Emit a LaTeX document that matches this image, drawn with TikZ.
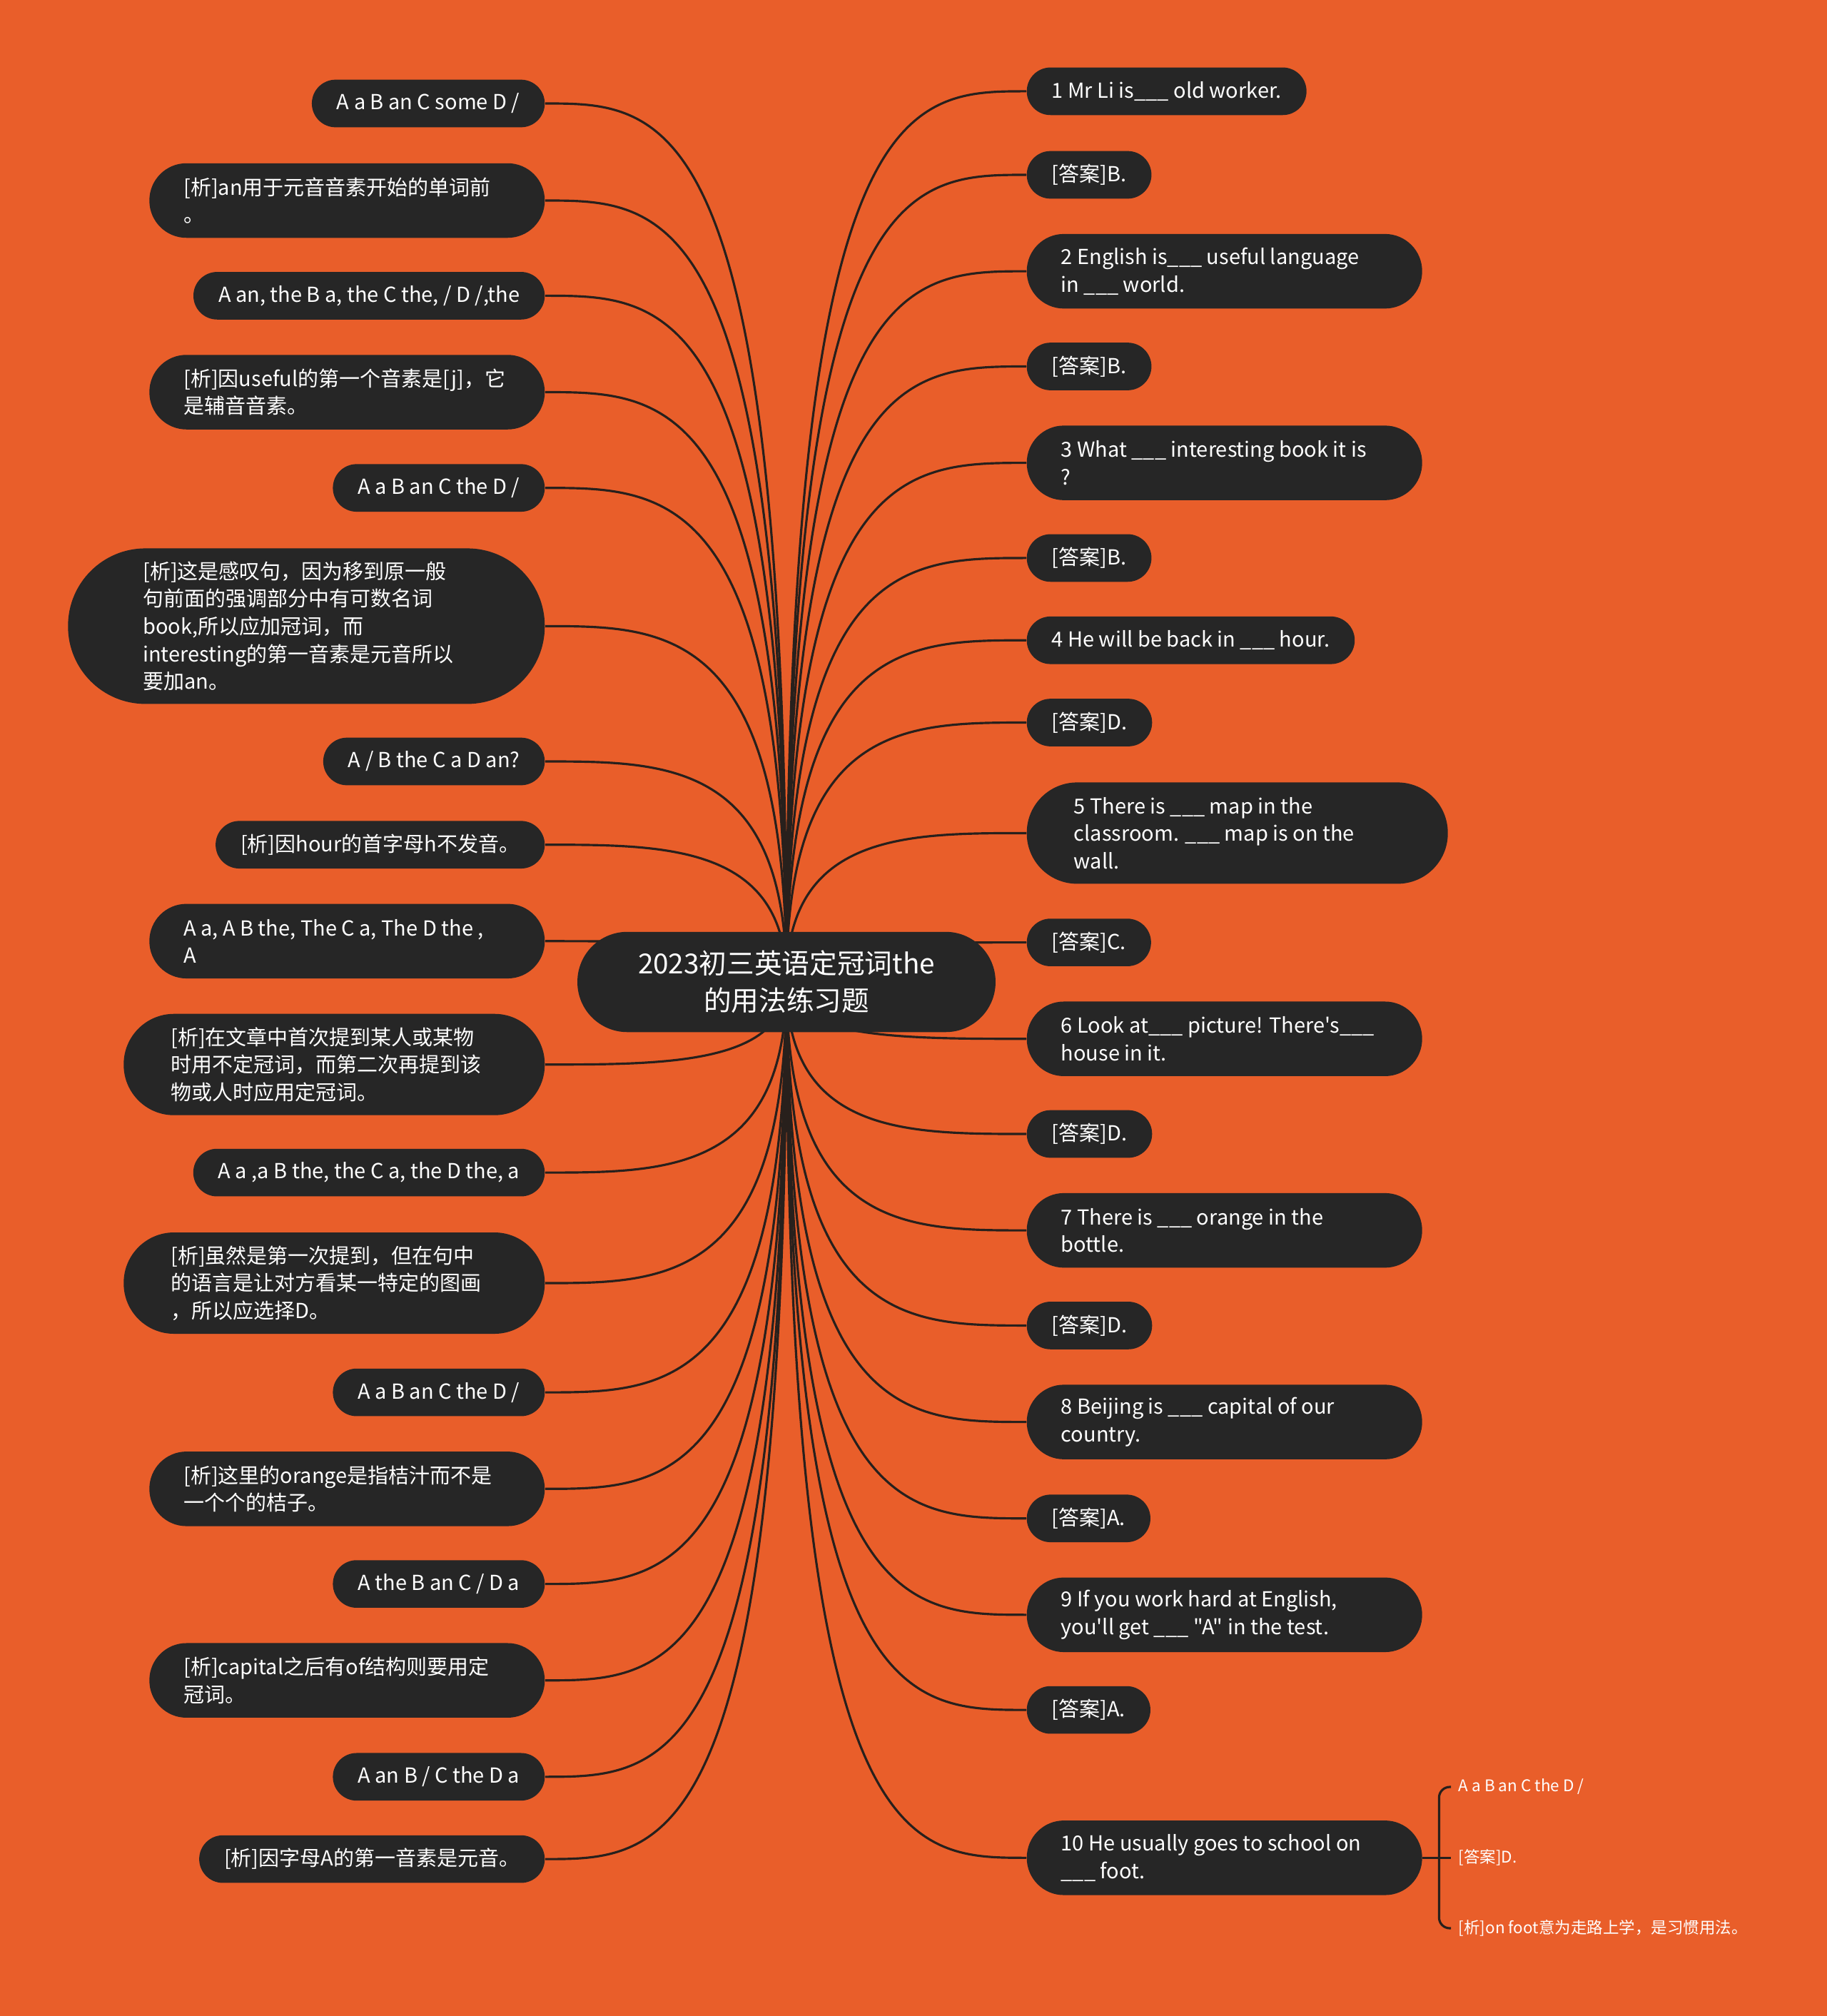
\documentclass[tikz,border=0pt]{standalone}
\usepackage{fontspec}
\setmainfont{Noto Sans CJK SC}[Ligatures=TeXOff]
\usepackage{tikz}
\usetikzlibrary{calc}
\definecolor{mapbg}{RGB}{233, 94, 42}
\definecolor{boxdark}{RGB}{38, 38, 38}
\definecolor{linkdark}{RGB}{40, 32, 28}
\pgfdeclarelayer{paper}
\pgfdeclarelayer{links}
\pgfsetlayers{paper,links,main}

\begin{document}
\begin{tikzpicture}[
    leaf/.style={rectangle, rounded corners=0.333cm, fill=boxdark, text=white, align=flush left,
        font=\fontsize{8.25pt}{11pt}\selectfont, inner xsep=0.35cm, inner ysep=0pt,
        minimum height=0.667cm},
    tworow/.style={minimum height=1.045cm, rounded corners=0.52cm, inner xsep=0.48cm, text width=4.58cm},
    threerow/.style={minimum height=1.42cm, rounded corners=0.705cm, inner xsep=0.66cm, text width=4.58cm},
    fiverow/.style={minimum height=2.18cm, rounded corners=1.085cm, inner xsep=1.05cm, text width=4.58cm},
    small/.style={text=white, font=\fontsize{6.4pt}{8pt}\selectfont, inner sep=0.1cm, anchor=west},
    branch/.style={linkdark, line width=0.9pt,
        to path={.. controls (\tikztostart |- \tikztotarget) and ($(\tikztostart |- \tikztotarget)!0.5!(\tikztotarget)$) .. (\tikztotarget)}}
]
\useasboundingbox (0,0) rectangle (25.6,-28.25);
\begin{pgfonlayer}{paper}
\fill[mapbg] (0,0) rectangle (25.6,-28.25);
\end{pgfonlayer}

\node[rectangle, rounded corners=0.70cm, fill=boxdark, text=white, align=center, font=\fontsize{11pt}{14.8pt}\selectfont,
    inner xsep=0.85cm, inner ysep=0pt, minimum height=1.405cm] (root) at (11.02,-13.76) {2023初三英语定冠词the\\的用法练习题};

\node[leaf, anchor=east] (opt1) at (7.64,-1.450) {A a B an C some D /};
\node[leaf, tworow, anchor=east] (note1) at (7.64,-2.810) {[析]an用于元音音素开始的单词前\\。};
\node[leaf, anchor=east] (opt2) at (7.64,-4.144) {A an, the B a, the C the, / D /,the};
\node[leaf, tworow, anchor=east] (note2) at (7.64,-5.495) {[析]因useful的第一个音素是[j]，它\\是辅音音素。};
\node[leaf, anchor=east] (opt3) at (7.64,-6.837) {A a B an C the D /};
\node[leaf, fiverow, anchor=east] (note3) at (7.64,-8.774) {[析]这是感叹句，因为移到原一般\\句前面的强调部分中有可数名词\\book,所以应加冠词，而\\interesting的第一音素是元音所以\\要加an。};
\node[leaf, anchor=east] (opt4) at (7.64,-10.67) {A / B the C a D an?};
\node[leaf, anchor=east] (note4) at (7.64,-11.837) {[析]因hour的首字母h不发音。};
\node[leaf, tworow, anchor=east] (opt5) at (7.64,-13.188) {A a, A B the, The C a, The D the ,\\A};
\node[leaf, threerow, anchor=east] (note5) at (7.64,-14.917) {[析]在文章中首次提到某人或某物\\时用不定冠词，而第二次再提到该\\物或人时应用定冠词。};
\node[leaf, anchor=east] (opt6) at (7.64,-16.431) {A a ,a B the, the C a, the D the, a};
\node[leaf, threerow, anchor=east] (note6) at (7.64,-17.980) {[析]虽然是第一次提到，但在句中\\的语言是让对方看某一特定的图画\\，所以应选择D。};
\node[leaf, anchor=east] (opt7) at (7.64,-19.511) {A a B an C the D /};
\node[leaf, tworow, anchor=east] (note7) at (7.64,-20.863) {[析]这里的orange是指桔汁而不是\\一个个的桔子。};
\node[leaf, anchor=east] (opt8) at (7.64,-22.196) {A the B an C / D a};
\node[leaf, tworow, anchor=east] (note8) at (7.64,-23.547) {[析]capital之后有of结构则要用定\\冠词。};
\node[leaf, anchor=east] (opt9) at (7.64,-24.898) {A an B / C the D a};
\node[leaf, anchor=east] (note9) at (7.64,-26.051) {[析]因字母A的第一音素是元音。};

\node[leaf, anchor=west] (q1) at (14.38,-1.279) {1 Mr Li is\_\_\_ old worker.};
\node[leaf, anchor=west] (ans1) at (14.38,-2.450) {[答案]B.};
\node[leaf, tworow, anchor=west] (q2) at (14.38,-3.801) {2 English is\_\_\_ useful language\\in \_\_\_ world.};
\node[leaf, anchor=west] (ans2) at (14.38,-5.135) {[答案]B.};
\node[leaf, tworow, anchor=west] (q3) at (14.38,-6.486) {3 What \_\_\_ interesting book it is\\?};
\node[leaf, anchor=west] (ans3) at (14.38,-7.819) {[答案]B.};
\node[leaf, anchor=west] (q4) at (14.38,-8.972) {4 He will be back in \_\_\_ hour.};
\node[leaf, anchor=west] (ans4) at (14.38,-10.125) {[答案]D.};
\node[leaf, threerow, anchor=west] (q5) at (14.38,-11.674) {5 There is \_\_\_ map in the\\classroom. \_\_\_ map is on the\\wall.};
\node[leaf, anchor=west] (ans5) at (14.38,-13.206) {[答案]C.};
\node[leaf, tworow, anchor=west] (q6) at (14.38,-14.557) {6 Look at\_\_\_ picture! There's\_\_\_\\house in it.};
\node[leaf, anchor=west] (ans6) at (14.38,-15.890) {[答案]D.};
\node[leaf, tworow, anchor=west] (q7) at (14.38,-17.241) {7 There is \_\_\_ orange in the\\bottle.};
\node[leaf, anchor=west] (ans7) at (14.38,-18.574) {[答案]D.};
\node[leaf, tworow, anchor=west] (q8) at (14.38,-19.926) {8 Beijing is \_\_\_ capital of our\\country.};
\node[leaf, anchor=west] (ans8) at (14.38,-21.277) {[答案]A.};
\node[leaf, tworow, anchor=west] (q9) at (14.38,-22.628) {9 If you work hard at English,\\you'll get \_\_\_ "A" in the test.};
\node[leaf, anchor=west] (ans9) at (14.38,-23.961) {[答案]A.};
\node[leaf, tworow, anchor=west] (q10) at (14.38,-26.033) {10 He usually goes to school on\\\_\_\_ foot.};

\coordinate (fork) at ([xshift=0.23cm]q10.east);
\node[small] (opt10) at (20.33,-25.04) {A a B an C the D /};
\node[small] (ans10) at (20.33,-26.033) {[答案]D.};
\node[small] (note10) at (20.33,-27.02) {[析]on foot意为走路上学，是习惯用法。};

\begin{pgfonlayer}{links}
\draw[branch] (root.center) to (opt1.east);
\draw[branch] (root.center) to (note1.east);
\draw[branch] (root.center) to (opt2.east);
\draw[branch] (root.center) to (note2.east);
\draw[branch] (root.center) to (opt3.east);
\draw[branch] (root.center) to (note3.east);
\draw[branch] (root.center) to (opt4.east);
\draw[branch] (root.center) to (note4.east);
\draw[branch] (root.center) to (opt5.east);
\draw[branch] (root.center) to (note5.east);
\draw[branch] (root.center) to (opt6.east);
\draw[branch] (root.center) to (note6.east);
\draw[branch] (root.center) to (opt7.east);
\draw[branch] (root.center) to (note7.east);
\draw[branch] (root.center) to (opt8.east);
\draw[branch] (root.center) to (note8.east);
\draw[branch] (root.center) to (opt9.east);
\draw[branch] (root.center) to (note9.east);
\draw[branch] (root.center) to (q1.west);
\draw[branch] (root.center) to (ans1.west);
\draw[branch] (root.center) to (q2.west);
\draw[branch] (root.center) to (ans2.west);
\draw[branch] (root.center) to (q3.west);
\draw[branch] (root.center) to (ans3.west);
\draw[branch] (root.center) to (q4.west);
\draw[branch] (root.center) to (ans4.west);
\draw[branch] (root.center) to (q5.west);
\draw[branch] (root.center) to (ans5.west);
\draw[branch] (root.center) to (q6.west);
\draw[branch] (root.center) to (ans6.west);
\draw[branch] (root.center) to (q7.west);
\draw[branch] (root.center) to (ans7.west);
\draw[branch] (root.center) to (q8.west);
\draw[branch] (root.center) to (ans8.west);
\draw[branch] (root.center) to (q9.west);
\draw[branch] (root.center) to (ans9.west);
\draw[branch] (root.center) to (q10.west);
\end{pgfonlayer}

\draw[linkdark, line width=0.9pt] (q10.east) -- (ans10.west);
\draw[linkdark, line width=0.9pt, rounded corners=0.15cm] (fork) |- (opt10.west);
\draw[linkdark, line width=0.9pt, rounded corners=0.15cm] (fork) |- (note10.west);
\end{tikzpicture}
\end{document}
